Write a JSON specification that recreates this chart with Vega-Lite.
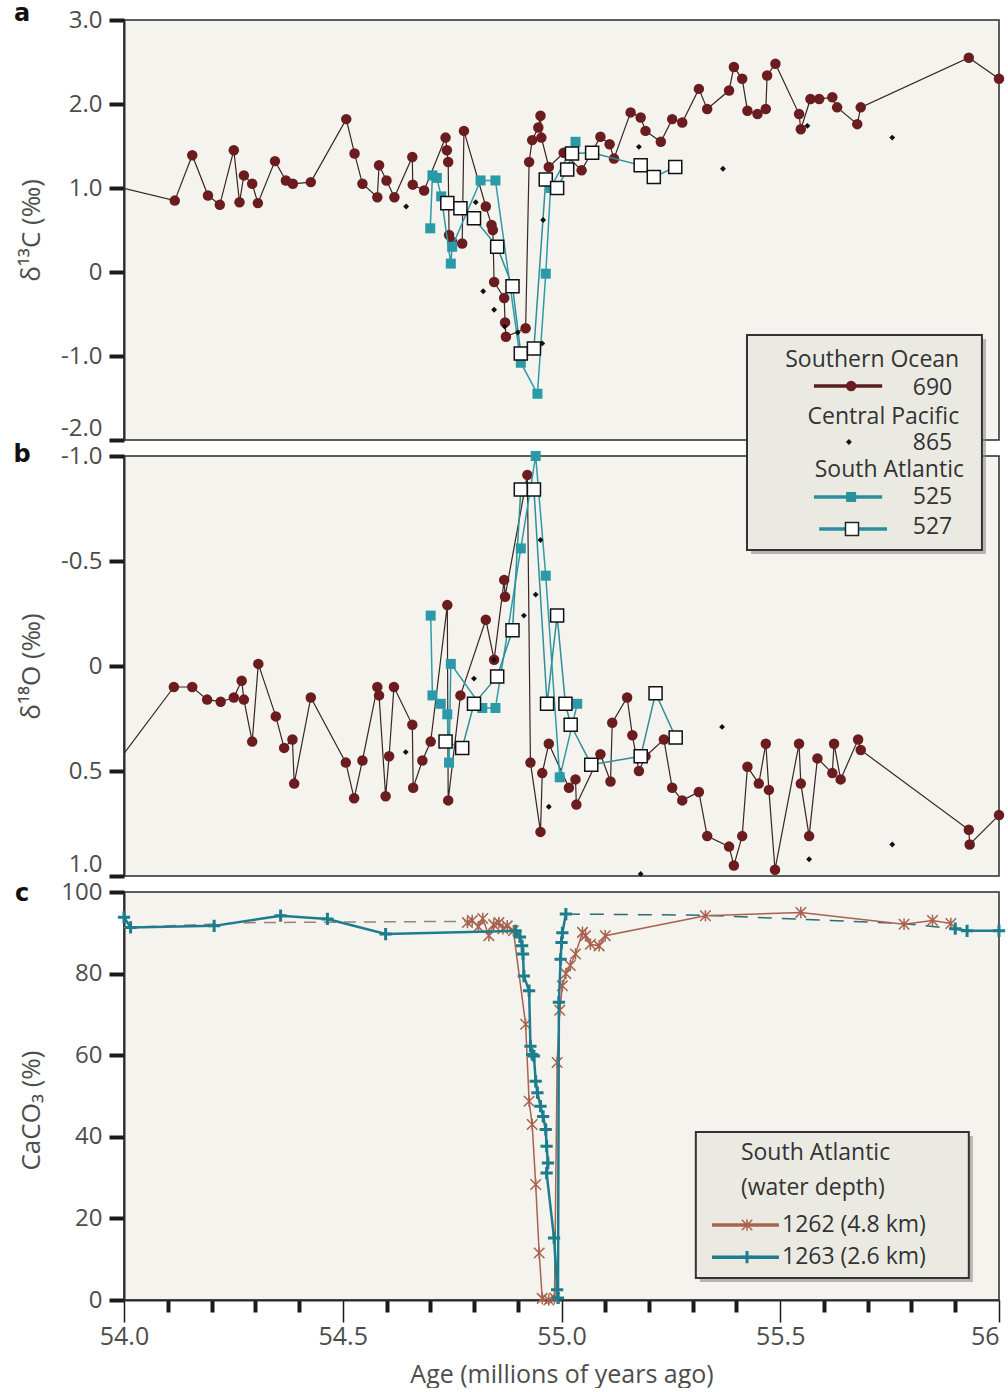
{
"$schema": "https://vega.github.io/schema/vega-lite/v6.json",
"background": "white",
"padding": {"left": 12, "top": 1, "right": 0, "bottom": 0},
"bounds": "flush",
"spacing": 16,
"config": {
 "view": {"stroke": "#2a2a2a", "strokeWidth": 1.5, "fill": "#f4f3ee"},
 "axis": {"labelFont": "Open Sans", "labelFontSize": 24, "labelColor": "#4d4d4d", "titleFont": "Open Sans", "titleFontSize": 26, "titleFontWeight": "normal", "titleColor": "#4d4d4d", "domainColor": "#2a2a2a", "domainWidth": 2, "tickColor": "#1a1a1a", "tickWidth": 4, "tickSize": 15, "grid": false, "labelPadding": 7},
 "text": {"font": "Open Sans", "color": "#333333"}
},
"datasets": {
 "c13": [
  {"site":"690","age":53.95,"v":1.06},{"site":"690","age":54.116,"v":0.85},{"site":"690","age":54.156,"v":1.39},{"site":"690","age":54.192,"v":0.91},{"site":"690","age":54.219,"v":0.8},{"site":"690","age":54.251,"v":1.45},{"site":"690","age":54.264,"v":0.83},{"site":"690","age":54.274,"v":1.15},{"site":"690","age":54.293,"v":1.05},{"site":"690","age":54.306,"v":0.82},{"site":"690","age":54.345,"v":1.32},{"site":"690","age":54.37,"v":1.09},{"site":"690","age":54.386,"v":1.05},{"site":"690","age":54.427,"v":1.07},{"site":"690","age":54.508,"v":1.82},{"site":"690","age":54.527,"v":1.41},{"site":"690","age":54.545,"v":1.05},{"site":"690","age":54.579,"v":0.89},{"site":"690","age":54.583,"v":1.27},{"site":"690","age":54.6,"v":1.09},{"site":"690","age":54.618,"v":0.89},{"site":"690","age":54.659,"v":1.37},{"site":"690","age":54.66,"v":1.04},{"site":"690","age":54.686,"v":0.97},{"site":"690","age":54.735,"v":1.6},{"site":"690","age":54.738,"v":1.45},{"site":"690","age":54.741,"v":1.31},{"site":"690","age":54.743,"v":0.44},{"site":"690","age":54.75,"v":0.36},{"site":"690","age":54.773,"v":0.34},{"site":"690","age":54.777,"v":1.68},{"site":"690","age":54.827,"v":0.78},{"site":"690","age":54.84,"v":0.56},{"site":"690","age":54.843,"v":0.5},{"site":"690","age":54.846,"v":-0.12},{"site":"690","age":54.869,"v":-0.31},{"site":"690","age":54.871,"v":-0.6},{"site":"690","age":54.873,"v":-0.77},{"site":"690","age":54.918,"v":-0.67},{"site":"690","age":54.926,"v":1.31},{"site":"690","age":54.933,"v":1.57},{"site":"690","age":54.947,"v":1.72},{"site":"690","age":54.952,"v":1.86},{"site":"690","age":54.954,"v":1.6},{"site":"690","age":54.971,"v":1.25},{"site":"690","age":55.005,"v":1.42},{"site":"690","age":55.046,"v":1.21},{"site":"690","age":55.089,"v":1.61},{"site":"690","age":55.11,"v":1.52},{"site":"690","age":55.12,"v":1.35},{"site":"690","age":55.158,"v":1.9},{"site":"690","age":55.181,"v":1.84},{"site":"690","age":55.192,"v":1.68},{"site":"690","age":55.227,"v":1.55},{"site":"690","age":55.253,"v":1.82},{"site":"690","age":55.276,"v":1.78},{"site":"690","age":55.314,"v":2.18},{"site":"690","age":55.333,"v":1.94},{"site":"690","age":55.383,"v":2.16},{"site":"690","age":55.394,"v":2.44},{"site":"690","age":55.413,"v":2.3},{"site":"690","age":55.425,"v":1.92},{"site":"690","age":55.448,"v":1.88},{"site":"690","age":55.467,"v":1.94},{"site":"690","age":55.47,"v":2.34},{"site":"690","age":55.489,"v":2.48},{"site":"690","age":55.543,"v":1.88},{"site":"690","age":55.547,"v":1.7},{"site":"690","age":55.569,"v":2.06},{"site":"690","age":55.589,"v":2.06},{"site":"690","age":55.619,"v":2.08},{"site":"690","age":55.63,"v":1.96},{"site":"690","age":55.676,"v":1.76},{"site":"690","age":55.684,"v":1.96},{"site":"690","age":55.931,"v":2.55},{"site":"690","age":56.0,"v":2.3},
  {"site":"525","age":54.7,"v":0.52},{"site":"525","age":54.705,"v":1.15},{"site":"525","age":54.715,"v":1.12},{"site":"525","age":54.725,"v":0.9},{"site":"525","age":54.747,"v":0.1},{"site":"525","age":54.75,"v":0.3},{"site":"525","age":54.815,"v":1.09},{"site":"525","age":54.849,"v":1.09},{"site":"525","age":54.907,"v":-1.08},{"site":"525","age":54.945,"v":-1.45},{"site":"525","age":54.964,"v":-0.02},{"site":"525","age":54.975,"v":1.0},{"site":"525","age":55.032,"v":1.55},
  {"site":"527","age":54.739,"v":0.82},{"site":"527","age":54.769,"v":0.76},{"site":"527","age":54.8,"v":0.64},{"site":"527","age":54.853,"v":0.3},{"site":"527","age":54.888,"v":-0.17},{"site":"527","age":54.907,"v":-0.97},{"site":"527","age":54.937,"v":-0.91},{"site":"527","age":54.964,"v":1.1},{"site":"527","age":54.99,"v":1.0},{"site":"527","age":55.013,"v":1.22},{"site":"527","age":55.024,"v":1.41},{"site":"527","age":55.07,"v":1.42},{"site":"527","age":55.181,"v":1.27},{"site":"527","age":55.211,"v":1.13},{"site":"527","age":55.26,"v":1.25},
  {"site":"865","age":54.645,"v":0.78},{"site":"865","age":54.804,"v":0.83},{"site":"865","age":54.821,"v":-0.23},{"site":"865","age":54.846,"v":-0.45},{"site":"865","age":54.87,"v":-0.65},{"site":"865","age":54.9,"v":-0.72},{"site":"865","age":54.956,"v":-0.85},{"site":"865","age":54.958,"v":0.62},{"site":"865","age":54.975,"v":1.05},{"site":"865","age":55.177,"v":1.49},{"site":"865","age":55.369,"v":1.23},{"site":"865","age":55.562,"v":1.74},{"site":"865","age":55.756,"v":1.6}
 ],
 "o18": [
  {"site":"690","age":53.95,"v":0.556},{"site":"690","age":54.114,"v":0.1},{"site":"690","age":54.156,"v":0.1},{"site":"690","age":54.19,"v":0.16},{"site":"690","age":54.221,"v":0.17},{"site":"690","age":54.251,"v":0.15},{"site":"690","age":54.269,"v":0.07},{"site":"690","age":54.274,"v":0.16},{"site":"690","age":54.293,"v":0.36},{"site":"690","age":54.307,"v":-0.01},{"site":"690","age":54.347,"v":0.24},{"site":"690","age":54.366,"v":0.39},{"site":"690","age":54.385,"v":0.35},{"site":"690","age":54.389,"v":0.56},{"site":"690","age":54.427,"v":0.15},{"site":"690","age":54.507,"v":0.46},{"site":"690","age":54.526,"v":0.63},{"site":"690","age":54.545,"v":0.45},{"site":"690","age":54.579,"v":0.1},{"site":"690","age":54.583,"v":0.14},{"site":"690","age":54.598,"v":0.62},{"site":"690","age":54.606,"v":0.43},{"site":"690","age":54.617,"v":0.1},{"site":"690","age":54.659,"v":0.28},{"site":"690","age":54.661,"v":0.58},{"site":"690","age":54.682,"v":0.45},{"site":"690","age":54.701,"v":0.36},{"site":"690","age":54.739,"v":-0.29},{"site":"690","age":54.741,"v":0.64},{"site":"690","age":54.769,"v":0.14},{"site":"690","age":54.827,"v":-0.22},{"site":"690","age":54.846,"v":-0.03},{"site":"690","age":54.869,"v":-0.41},{"site":"690","age":54.871,"v":-0.33},{"site":"690","age":54.922,"v":-0.91},{"site":"690","age":54.929,"v":0.46},{"site":"690","age":54.952,"v":0.79},{"site":"690","age":54.956,"v":0.51},{"site":"690","age":54.971,"v":0.37},{"site":"690","age":55.017,"v":0.58},{"site":"690","age":55.032,"v":0.54},{"site":"690","age":55.034,"v":0.66},{"site":"690","age":55.089,"v":0.42},{"site":"690","age":55.112,"v":0.55},{"site":"690","age":55.116,"v":0.27},{"site":"690","age":55.15,"v":0.15},{"site":"690","age":55.162,"v":0.33},{"site":"690","age":55.177,"v":0.5},{"site":"690","age":55.192,"v":0.43},{"site":"690","age":55.234,"v":0.35},{"site":"690","age":55.253,"v":0.58},{"site":"690","age":55.276,"v":0.64},{"site":"690","age":55.314,"v":0.6},{"site":"690","age":55.333,"v":0.81},{"site":"690","age":55.383,"v":0.86},{"site":"690","age":55.394,"v":0.95},{"site":"690","age":55.413,"v":0.81},{"site":"690","age":55.425,"v":0.48},{"site":"690","age":55.451,"v":0.56},{"site":"690","age":55.467,"v":0.37},{"site":"690","age":55.474,"v":0.59},{"site":"690","age":55.488,"v":0.97},{"site":"690","age":55.543,"v":0.37},{"site":"690","age":55.547,"v":0.56},{"site":"690","age":55.566,"v":0.81},{"site":"690","age":55.585,"v":0.44},{"site":"690","age":55.619,"v":0.51},{"site":"690","age":55.623,"v":0.37},{"site":"690","age":55.638,"v":0.54},{"site":"690","age":55.678,"v":0.35},{"site":"690","age":55.684,"v":0.4},{"site":"690","age":55.931,"v":0.78},{"site":"690","age":55.933,"v":0.85},{"site":"690","age":56.0,"v":0.71},
  {"site":"525","age":54.701,"v":-0.24},{"site":"525","age":54.705,"v":0.14},{"site":"525","age":54.724,"v":0.18},{"site":"525","age":54.739,"v":0.23},{"site":"525","age":54.743,"v":0.46},{"site":"525","age":54.747,"v":-0.01},{"site":"525","age":54.819,"v":0.2},{"site":"525","age":54.849,"v":0.2},{"site":"525","age":54.907,"v":-0.56},{"site":"525","age":54.941,"v":-1.0},{"site":"525","age":54.964,"v":-0.43},{"site":"525","age":54.996,"v":0.53},{"site":"525","age":55.036,"v":0.18},
  {"site":"527","age":54.735,"v":0.36},{"site":"527","age":54.773,"v":0.39},{"site":"527","age":54.8,"v":0.18},{"site":"527","age":54.853,"v":0.05},{"site":"527","age":54.888,"v":-0.17},{"site":"527","age":54.907,"v":-0.84},{"site":"527","age":54.937,"v":-0.84},{"site":"527","age":54.967,"v":0.18},{"site":"527","age":54.99,"v":-0.24},{"site":"527","age":55.009,"v":0.18},{"site":"527","age":55.021,"v":0.28},{"site":"527","age":55.068,"v":0.47},{"site":"527","age":55.181,"v":0.43},{"site":"527","age":55.215,"v":0.13},{"site":"527","age":55.261,"v":0.34},
  {"site":"865","age":54.644,"v":0.41},{"site":"865","age":54.8,"v":0.06},{"site":"865","age":54.846,"v":-0.03},{"site":"865","age":54.914,"v":-0.24},{"site":"865","age":54.941,"v":-0.34},{"site":"865","age":54.952,"v":-0.6},{"site":"865","age":54.971,"v":0.67},{"site":"865","age":55.181,"v":0.99},{"site":"865","age":55.367,"v":0.29},{"site":"865","age":55.566,"v":0.92},{"site":"865","age":55.756,"v":0.85}
 ],
 "caco3": [
  {"site":"1262d","age":54.0,"v":91.3},{"site":"1262d","age":54.3,"v":92.5},{"site":"1262d","age":54.78,"v":92.8},
  {"site":"1263d","age":55.01,"v":94.6},{"site":"1263d","age":55.33,"v":94.3},{"site":"1263d","age":55.55,"v":93.3},{"site":"1263d","age":55.78,"v":92.3},{"site":"1263d","age":55.9,"v":91.0},
  {"site":"1262","age":54.785,"v":92.5},{"site":"1262","age":54.796,"v":93.0},{"site":"1262","age":54.81,"v":91.5},{"site":"1262","age":54.82,"v":93.5},{"site":"1262","age":54.834,"v":89.3},{"site":"1262","age":54.845,"v":92.0},{"site":"1262","age":54.857,"v":92.5},{"site":"1262","age":54.866,"v":91.0},{"site":"1262","age":54.876,"v":91.7},{"site":"1262","age":54.89,"v":90.5},{"site":"1262","age":54.918,"v":67.6},{"site":"1262","age":54.926,"v":48.7},{"site":"1262","age":54.933,"v":43.0},{"site":"1262","age":54.941,"v":28.3},{"site":"1262","age":54.949,"v":11.5},{"site":"1262","age":54.956,"v":0.4},{"site":"1262","age":54.971,"v":0.0},{"site":"1262","age":54.984,"v":0.5},{"site":"1262","age":54.99,"v":58.2},{"site":"1262","age":54.996,"v":71.0},{"site":"1262","age":55.002,"v":77.0},{"site":"1262","age":55.01,"v":80.0},{"site":"1262","age":55.02,"v":82.0},{"site":"1262","age":55.032,"v":84.8},{"site":"1262","age":55.048,"v":90.1},{"site":"1262","age":55.055,"v":89.3},{"site":"1262","age":55.066,"v":87.2},{"site":"1262","age":55.086,"v":86.8},{"site":"1262","age":55.1,"v":89.3},{"site":"1262","age":55.329,"v":94.2},{"site":"1262","age":55.547,"v":95.0},{"site":"1262","age":55.783,"v":92.1},{"site":"1262","age":55.848,"v":93.0},{"site":"1262","age":55.89,"v":92.3},
  {"site":"1263","age":54.0,"v":93.8},{"site":"1263","age":54.015,"v":91.3},{"site":"1263","age":54.206,"v":91.7},{"site":"1263","age":54.358,"v":94.2},{"site":"1263","age":54.465,"v":93.4},{"site":"1263","age":54.598,"v":89.7},{"site":"1263","age":54.895,"v":90.5},{"site":"1263","age":54.905,"v":89.0},{"site":"1263","age":54.91,"v":86.8},{"site":"1263","age":54.912,"v":84.8},{"site":"1263","age":54.914,"v":79.4},{"site":"1263","age":54.926,"v":75.8},{"site":"1263","age":54.929,"v":62.2},{"site":"1263","age":54.933,"v":60.2},{"site":"1263","age":54.937,"v":59.8},{"site":"1263","age":54.941,"v":53.6},{"site":"1263","age":54.945,"v":50.8},{"site":"1263","age":54.952,"v":47.5},{"site":"1263","age":54.958,"v":45.0},{"site":"1263","age":54.964,"v":41.8},{"site":"1263","age":54.966,"v":37.7},{"site":"1263","age":54.969,"v":33.6},{"site":"1263","age":54.966,"v":31.1},{"site":"1263","age":54.983,"v":15.2},{"site":"1263","age":54.99,"v":2.5},{"site":"1263","age":54.992,"v":0.5},{"site":"1263","age":54.994,"v":73.0},{"site":"1263","age":54.998,"v":83.5},{"site":"1263","age":55.0,"v":87.6},{"site":"1263","age":55.002,"v":90.0},{"site":"1263","age":55.01,"v":94.6},
  {"site":"1263b","age":55.9,"v":91.0},{"site":"1263b","age":55.927,"v":90.5},{"site":"1263b","age":56.0,"v":90.5}
 ]
},
"vconcat": [
 {
  "width": 875, "height": 420,
  "layer": [
   {
    "data": {"name": "c13"},
    "encoding": {
     "x": {"field": "age", "type": "quantitative", "scale": {"domain": [54, 56], "nice": false, "zero": false}, "axis": null},
     "y": {"field": "v", "type": "quantitative", "scale": {"domain": [-2, 3], "nice": false, "zero": false},
      "axis": {"values": [-2, -1, 0, 1, 2, 3], "title": "δ¹³C (‰)", "titleX": -93, "titleY": 210, "titleAngle": 270, "titleBaseline": "middle", "titleAlign": "center",
       "labelExpr": "datum.value == 0 ? '0' : (datum.value < 0 ? '-' : '') + format(abs(datum.value), '.1f')",
       "labelBaseline": {"condition": {"test": "datum.value == -2", "value": "bottom"}, "value": "middle"}}}
    },
    "layer": [
     {"transform": [{"filter": "datum.site == '690'"}], "mark": {"type": "line", "color": "#3a2424", "strokeWidth": 1.2, "clip": true}, "encoding": {"order": {"value": null}}},
     {"transform": [{"filter": "datum.site == '690' && datum.age >= 54"}], "mark": {"type": "circle", "color": "#6b1c1e", "size": 110, "opacity": 1}},
     {"transform": [{"filter": "datum.site == '525'"}], "mark": {"type": "line", "color": "#2e9ba8", "strokeWidth": 1.5}, "encoding": {"order": {"value": null}}},
     {"transform": [{"filter": "datum.site == '527'"}], "mark": {"type": "line", "color": "#2f8f98", "strokeWidth": 1.5}, "encoding": {"order": {"value": null}}},
     {"transform": [{"filter": "datum.site == '865'"}], "mark": {"type": "point", "shape": "diamond", "filled": true, "color": "#111111", "size": 35, "opacity": 1}},
     {"transform": [{"filter": "datum.site == '525'"}], "mark": {"type": "square", "color": "#2a9aa8", "size": 100, "opacity": 1}},
     {"transform": [{"filter": "datum.site == '527'"}], "mark": {"type": "square", "fill": "#ffffff", "stroke": "#111111", "strokeWidth": 1.5, "size": 170, "opacity": 1}}
    ]
   },
   {"data": {"values": [{"k": 1}]}, "mark": {"type": "text", "font": "DejaVu Sans", "fontWeight": "bold", "fontSize": 24, "color": "#111111", "align": "center", "baseline": "alphabetic", "dy": 1},
    "encoding": {"text": {"value": "a"}, "x": {"datum": 53.767, "type": "quantitative", "axis": null}, "y": {"datum": 3, "type": "quantitative"}}}
  ]
 },
 {
  "width": 875, "height": 420,
  "layer": [
   {
    "data": {"name": "o18"},
    "encoding": {
     "x": {"field": "age", "type": "quantitative", "scale": {"domain": [54, 56], "nice": false, "zero": false}, "axis": null},
     "y": {"field": "v", "type": "quantitative", "scale": {"domain": [-1, 1], "nice": false, "zero": false, "reverse": true},
      "axis": {"values": [-1, -0.5, 0, 0.5, 1], "title": "δ¹⁸O (‰)", "titleX": -93, "titleY": 210, "titleAngle": 270, "titleBaseline": "middle", "titleAlign": "center",
       "labelExpr": "datum.value == 0 ? '0' : (datum.value < 0 ? '-' : '') + format(abs(datum.value), '.1f')",
       "labelBaseline": {"condition": {"test": "datum.value == 1", "value": "bottom"}, "value": "middle"}}}
    },
    "layer": [
     {"transform": [{"filter": "datum.site == '690'"}], "mark": {"type": "line", "color": "#3a2424", "strokeWidth": 1.2, "clip": true}, "encoding": {"order": {"value": null}}},
     {"transform": [{"filter": "datum.site == '690' && datum.age >= 54"}], "mark": {"type": "circle", "color": "#6b1c1e", "size": 110, "opacity": 1}},
     {"transform": [{"filter": "datum.site == '525'"}], "mark": {"type": "line", "color": "#2e9ba8", "strokeWidth": 1.5}, "encoding": {"order": {"value": null}}},
     {"transform": [{"filter": "datum.site == '527'"}], "mark": {"type": "line", "color": "#2f8f98", "strokeWidth": 1.5}, "encoding": {"order": {"value": null}}},
     {"transform": [{"filter": "datum.site == '865'"}], "mark": {"type": "point", "shape": "diamond", "filled": true, "color": "#111111", "size": 35, "opacity": 1}},
     {"transform": [{"filter": "datum.site == '525'"}], "mark": {"type": "square", "color": "#2a9aa8", "size": 100, "opacity": 1}},
     {"transform": [{"filter": "datum.site == '527'"}], "mark": {"type": "square", "fill": "#ffffff", "stroke": "#111111", "strokeWidth": 1.5, "size": 170, "opacity": 1}}
    ]
   },
   {"data": {"values": [{"k": 1}]}, "mark": {"type": "text", "font": "DejaVu Sans", "fontWeight": "bold", "fontSize": 24, "color": "#111111", "align": "center", "baseline": "alphabetic", "dy": 6},
    "encoding": {"text": {"value": "b"}, "x": {"datum": 53.767, "type": "quantitative", "axis": null}, "y": {"datum": -1, "type": "quantitative"}}},
   {"data": {"values": [{"k": 1}]}, "mark": {"type": "rect", "fill": "#8a8a8a", "opacity": 0.6, "xOffset": 4, "x2Offset": 4, "yOffset": 4, "y2Offset": 4},
    "encoding": {"x": {"datum": 55.424, "type": "quantitative", "axis": null}, "x2": {"datum": 55.961}, "y": {"datum": -1.576, "type": "quantitative"}, "y2": {"datum": -0.552}}},
   {"data": {"values": [{"k": 1}]}, "mark": {"type": "rect", "fill": "#ebeae2", "stroke": "#333333", "strokeWidth": 2},
    "encoding": {"x": {"datum": 55.424, "type": "quantitative", "axis": null}, "x2": {"datum": 55.961}, "y": {"datum": -1.576, "type": "quantitative"}, "y2": {"datum": -0.552}}},
   {"data": {"values": [{"k": 1}]}, "mark": {"type": "text", "fontSize": 23, "align": "right", "baseline": "middle"},
    "encoding": {"text": {"value": "Southern Ocean"}, "x": {"datum": 55.909, "type": "quantitative", "axis": null}, "y": {"datum": -1.457, "type": "quantitative"}}},
   {"data": {"values": [{"k": 1}]}, "mark": {"type": "text", "fontSize": 23, "align": "right", "baseline": "middle"},
    "encoding": {"text": {"value": "690"}, "x": {"datum": 55.893, "type": "quantitative", "axis": null}, "y": {"datum": -1.324, "type": "quantitative"}}},
   {"data": {"values": [{"k": 1}]}, "mark": {"type": "text", "fontSize": 23, "align": "right", "baseline": "middle"},
    "encoding": {"text": {"value": "Central Pacific"}, "x": {"datum": 55.909, "type": "quantitative", "axis": null}, "y": {"datum": -1.186, "type": "quantitative"}}},
   {"data": {"values": [{"k": 1}]}, "mark": {"type": "text", "fontSize": 23, "align": "right", "baseline": "middle"},
    "encoding": {"text": {"value": "865"}, "x": {"datum": 55.893, "type": "quantitative", "axis": null}, "y": {"datum": -1.062, "type": "quantitative"}}},
   {"data": {"values": [{"k": 1}]}, "mark": {"type": "text", "fontSize": 23, "align": "right", "baseline": "middle"},
    "encoding": {"text": {"value": "South Atlantic"}, "x": {"datum": 55.92, "type": "quantitative", "axis": null}, "y": {"datum": -0.933, "type": "quantitative"}}},
   {"data": {"values": [{"k": 1}]}, "mark": {"type": "text", "fontSize": 23, "align": "right", "baseline": "middle"},
    "encoding": {"text": {"value": "525"}, "x": {"datum": 55.893, "type": "quantitative", "axis": null}, "y": {"datum": -0.805, "type": "quantitative"}}},
   {"data": {"values": [{"k": 1}]}, "mark": {"type": "text", "fontSize": 23, "align": "right", "baseline": "middle"},
    "encoding": {"text": {"value": "527"}, "x": {"datum": 55.893, "type": "quantitative", "axis": null}, "y": {"datum": -0.662, "type": "quantitative"}}},
   {"data": {"values": [{"k": 1}]}, "mark": {"type": "rule", "color": "#5a1e1e", "strokeWidth": 3.5},
    "encoding": {"x": {"datum": 55.577, "type": "quantitative", "axis": null}, "x2": {"datum": 55.733}, "y": {"datum": -1.333, "type": "quantitative"}}},
   {"data": {"values": [{"k": 1}]}, "mark": {"type": "circle", "color": "#6b1c1e", "size": 110, "opacity": 1},
    "encoding": {"x": {"datum": 55.662, "type": "quantitative", "axis": null}, "y": {"datum": -1.333, "type": "quantitative"}}},
   {"data": {"values": [{"k": 1}]}, "mark": {"type": "point", "shape": "diamond", "filled": true, "color": "#111111", "size": 35, "opacity": 1},
    "encoding": {"x": {"datum": 55.657, "type": "quantitative", "axis": null}, "y": {"datum": -1.067, "type": "quantitative"}}},
   {"data": {"values": [{"k": 1}]}, "mark": {"type": "rule", "color": "#2a8f9c", "strokeWidth": 3.5},
    "encoding": {"x": {"datum": 55.577, "type": "quantitative", "axis": null}, "x2": {"datum": 55.733}, "y": {"datum": -0.805, "type": "quantitative"}}},
   {"data": {"values": [{"k": 1}]}, "mark": {"type": "square", "color": "#2a8f9c", "size": 100, "opacity": 1},
    "encoding": {"x": {"datum": 55.662, "type": "quantitative", "axis": null}, "y": {"datum": -0.805, "type": "quantitative"}}},
   {"data": {"values": [{"k": 1}]}, "mark": {"type": "rule", "color": "#2a8f9c", "strokeWidth": 3.5},
    "encoding": {"x": {"datum": 55.589, "type": "quantitative", "axis": null}, "x2": {"datum": 55.744}, "y": {"datum": -0.652, "type": "quantitative"}}},
   {"data": {"values": [{"k": 1}]}, "mark": {"type": "square", "fill": "#ffffff", "stroke": "#222222", "strokeWidth": 1.5, "size": 170, "opacity": 1},
    "encoding": {"x": {"datum": 55.664, "type": "quantitative", "axis": null}, "y": {"datum": -0.652, "type": "quantitative"}}}
  ]
 },
 {
  "width": 875, "height": 408,
  "layer": [
   {
    "data": {"name": "caco3"},
    "encoding": {
     "x": {"field": "age", "type": "quantitative", "scale": {"domain": [54, 56], "nice": false, "zero": false},
      "axis": {"values": [54, 54.1, 54.2, 54.3, 54.4, 54.5, 54.6, 54.7, 54.8, 54.9, 55, 55.1, 55.2, 55.3, 55.4, 55.5, 55.6, 55.7, 55.8, 55.9, 56],
       "labelExpr": "datum.value == 56 ? '56' : (abs(datum.value * 2 - round(datum.value * 2)) < 0.001 ? format(datum.value, '.1f') : '')",
       "labelAlign": {"condition": {"test": "datum.value == 56", "value": "right"}, "value": "center"},
       "tickSize": {"condition": {"test": "abs(datum.value * 2 - round(datum.value * 2)) < 0.001", "value": 22}, "value": 12},
       "tickWidth": {"condition": {"test": "abs(datum.value * 2 - round(datum.value * 2)) < 0.001", "value": 1.5}, "value": 4},
       "labelPadding": 2, "labelFontSize": 25,
       "title": "Age (millions of years ago)", "titleFontSize": 25, "titlePadding": 13}},
     "y": {"field": "v", "type": "quantitative", "scale": {"domain": [0, 100], "nice": false, "zero": false},
      "axis": {"values": [0, 20, 40, 60, 80, 100], "title": "CaCO₃ (%)", "titleX": -93, "titleY": 218, "titleAngle": 270, "titleBaseline": "middle", "titleAlign": "center"}}
    },
    "layer": [
     {"transform": [{"filter": "datum.site == '1262d'"}], "mark": {"type": "line", "color": "#9c8273", "strokeWidth": 1.5, "strokeDash": [12, 8]}, "encoding": {"order": {"value": null}}},
     {"transform": [{"filter": "datum.site == '1263d'"}], "mark": {"type": "line", "color": "#2f6c76", "strokeWidth": 1.5, "strokeDash": [14, 10]}, "encoding": {"order": {"value": null}}},
     {"transform": [{"filter": "datum.site == '1262'"}], "mark": {"type": "line", "color": "#a8624f", "strokeWidth": 1.5}, "encoding": {"order": {"value": null}}},
     {"transform": [{"filter": "datum.site == '1262'"}], "mark": {"type": "point", "shape": "M-1,-1L1,1M1,-1L-1,1M0,-1.1L0,1.1", "filled": false, "color": "#a8624f", "strokeWidth": 1.5, "size": 110, "opacity": 1}},
     {"transform": [{"filter": "datum.site == '1263' || datum.site == '1263b'"}], "mark": {"type": "line", "color": "#1e7d8c", "strokeWidth": 2.5}, "encoding": {"order": {"value": null}, "detail": {"field": "site"}}},
     {"transform": [{"filter": "datum.site == '1263' || datum.site == '1263b'"}], "mark": {"type": "point", "shape": "M-1,0L1,0M0,-1L0,1", "filled": false, "color": "#1e7d8c", "strokeWidth": 3, "size": 150, "opacity": 1}}
    ]
   },
   {"data": {"values": [{"k": 1}]}, "mark": {"type": "text", "font": "DejaVu Sans", "fontWeight": "bold", "fontSize": 24, "color": "#111111", "align": "center", "baseline": "alphabetic", "dy": 9},
    "encoding": {"text": {"value": "c"}, "x": {"datum": 53.767, "type": "quantitative"}, "y": {"datum": 100, "type": "quantitative"}}},
   {"data": {"values": [{"k": 1}]}, "mark": {"type": "rect", "fill": "#8a8a8a", "opacity": 0.6, "xOffset": 4, "x2Offset": 4, "yOffset": 4, "y2Offset": 4},
    "encoding": {"x": {"datum": 55.307, "type": "quantitative"}, "x2": {"datum": 55.931}, "y": {"datum": 41.2, "type": "quantitative"}, "y2": {"datum": 5.4}}},
   {"data": {"values": [{"k": 1}]}, "mark": {"type": "rect", "fill": "#ebeae2", "stroke": "#333333", "strokeWidth": 2},
    "encoding": {"x": {"datum": 55.307, "type": "quantitative"}, "x2": {"datum": 55.931}, "y": {"datum": 41.2, "type": "quantitative"}, "y2": {"datum": 5.4}}},
   {"data": {"values": [{"k": 1}]}, "mark": {"type": "text", "fontSize": 23, "align": "left", "baseline": "middle"},
    "encoding": {"text": {"value": "South Atlantic"}, "x": {"datum": 55.41, "type": "quantitative"}, "y": {"datum": 36.0, "type": "quantitative"}}},
   {"data": {"values": [{"k": 1}]}, "mark": {"type": "text", "fontSize": 23, "align": "left", "baseline": "middle"},
    "encoding": {"text": {"value": "(water depth)"}, "x": {"datum": 55.41, "type": "quantitative"}, "y": {"datum": 27.5, "type": "quantitative"}}},
   {"data": {"values": [{"k": 1}]}, "mark": {"type": "text", "fontSize": 23, "align": "left", "baseline": "middle"},
    "encoding": {"text": {"value": "1262 (4.8 km)"}, "x": {"datum": 55.504, "type": "quantitative"}, "y": {"datum": 18.4, "type": "quantitative"}}},
   {"data": {"values": [{"k": 1}]}, "mark": {"type": "text", "fontSize": 23, "align": "left", "baseline": "middle"},
    "encoding": {"text": {"value": "1263 (2.6 km)"}, "x": {"datum": 55.504, "type": "quantitative"}, "y": {"datum": 10.5, "type": "quantitative"}}},
   {"data": {"values": [{"k": 1}]}, "mark": {"type": "rule", "color": "#a8624f", "strokeWidth": 3.5},
    "encoding": {"x": {"datum": 55.344, "type": "quantitative"}, "x2": {"datum": 55.497}, "y": {"datum": 18.4, "type": "quantitative"}}},
   {"data": {"values": [{"k": 1}]}, "mark": {"type": "point", "shape": "M-1,-1L1,1M1,-1L-1,1M0,-1.1L0,1.1", "filled": false, "color": "#a8624f", "strokeWidth": 1.5, "size": 110, "opacity": 1},
    "encoding": {"x": {"datum": 55.424, "type": "quantitative"}, "y": {"datum": 18.4, "type": "quantitative"}}},
   {"data": {"values": [{"k": 1}]}, "mark": {"type": "rule", "color": "#1e7d8c", "strokeWidth": 3.5},
    "encoding": {"x": {"datum": 55.344, "type": "quantitative"}, "x2": {"datum": 55.497}, "y": {"datum": 10.5, "type": "quantitative"}}},
   {"data": {"values": [{"k": 1}]}, "mark": {"type": "point", "shape": "M-1,0L1,0M0,-1L0,1", "filled": false, "color": "#1e7d8c", "strokeWidth": 3, "size": 150, "opacity": 1},
    "encoding": {"x": {"datum": 55.424, "type": "quantitative"}, "y": {"datum": 10.5, "type": "quantitative"}}}
  ]
 }
]
}
